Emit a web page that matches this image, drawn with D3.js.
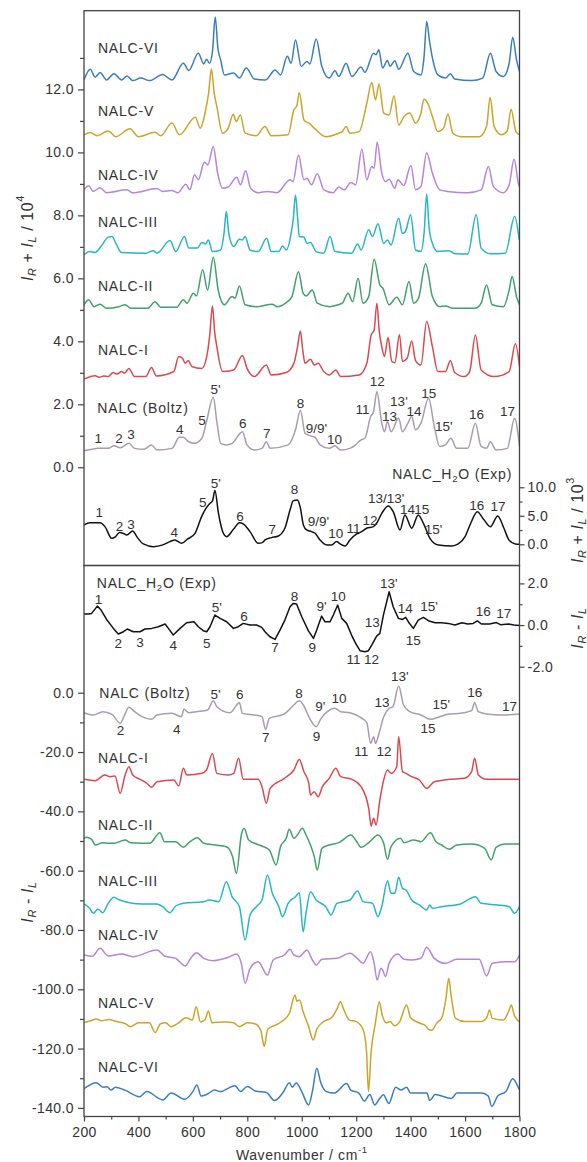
<!DOCTYPE html>
<html>
<head>
<meta charset="utf-8">
<script src="https://cdn.jsdelivr.net/npm/d3@7"></script>
<style>
  body { margin: 0; background: #fff; }
  svg text { font-family: "Liberation Sans", Arial, Helvetica, sans-serif; fill: #333; }
</style>
</head>
<body>
<svg id="chart" width="587" height="1162"></svg>
<script>
// ---------------- Raman (I_R + I_L, x10^4, offset traces) ----------------
const ramanVI = [[200,12.30],[223,12.64],[241,12.39],[259,12.54],[283,12.30],[310,12.50],[338,12.30],[358,12.43],[379,12.28],[409,12.36],[441,12.28],[489,12.47],[523,12.30],[565,12.83],[585,12.60],[620,13.15],[640,12.81],[650,12.96],[661,12.83],[672,13.2],[682,14.30],[692,13.3],[702,12.94],[716,12.46],[750,12.52],[771,12.36],[796,12.68],[826,12.33],[867,12.30],[902,12.62],[922,12.46],[947,13.05],[961,12.83],[977,13.57],[998,12.73],[1019,12.89],[1030,12.81],[1053,13.60],[1074,12.73],[1101,12.36],[1122,12.59],[1136,12.41],[1163,12.83],[1184,12.41],[1218,12.71],[1232,12.54],[1264,13.15],[1273,13.10],[1283,13.26],[1297,12.68],[1315,12.92],[1324,12.73],[1342,12.91],[1356,12.64],[1390,13.15],[1411,12.57],[1438,12.46],[1449,13.0],[1459,14.16],[1470,13.5],[1480,13.0],[1500,12.46],[1528,12.36],[1546,12.50],[1562,12.33],[1624,12.28],[1665,12.36],[1693,13.15],[1714,12.57],[1741,12.41],[1762,12.83],[1775,13.66],[1789,12.94],[1800,12.57]];

const ramanV = [[200,10.56],[223,10.63],[248,10.53],[289,10.68],[317,10.50],[369,10.75],[400,10.50],[461,10.64],[482,10.53],[523,10.93],[551,10.56],[609,11.12],[627,10.77],[647,11.35],[658,11.9],[668,12.65],[678,11.9],[688,11.46],[709,10.61],[730,10.77],[748,11.21],[760,10.98],[774,11.19],[792,10.61],[833,10.53],[865,10.82],[888,10.53],[950,10.56],[971,11.35],[982,11.48],[991,11.90],[1008,11.03],[1030,10.91],[1046,10.77],[1088,10.50],[1136,10.61],[1149,10.66],[1163,10.82],[1177,10.61],[1211,10.66],[1239,11.56],[1257,12.22],[1271,11.67],[1284,12.17],[1301,11.25],[1321,11.19],[1339,11.80],[1356,10.87],[1376,11.14],[1397,11.25],[1418,10.93],[1438,11.25],[1449,11.69],[1463,11.56],[1480,11.14],[1500,10.66],[1521,10.77],[1537,11.22],[1555,10.61],[1583,10.50],[1652,10.50],[1679,10.82],[1692,11.75],[1707,10.82],[1734,10.56],[1755,10.68],[1769,11.37],[1787,10.66],[1800,10.56]];

const ramanIV = [[200,8.81],[217,8.94],[234,8.76],[259,8.88],[283,8.72],[358,8.81],[379,8.72],[468,8.85],[489,8.76],[523,8.79],[545,8.72],[574,8.99],[589,8.81],[606,9.29],[620,9.13],[642,9.69],[655,9.60],[675,10.19],[691,9.34],[709,8.86],[730,8.90],[761,9.21],[775,8.97],[794,9.42],[812,8.86],[840,8.72],[874,8.76],[909,8.72],[957,9.13],[968,9.07],[988,9.92],[1008,9.13],[1019,9.18],[1036,8.97],[1057,9.32],[1081,8.81],[1115,8.72],[1136,8.90],[1156,8.81],[1180,9.04],[1198,8.97],[1221,10.10],[1239,9.13],[1257,9.55],[1266,9.50],[1277,10.32],[1294,9.34],[1308,9.07],[1321,9.15],[1342,8.86],[1353,9.13],[1375,8.95],[1401,9.58],[1418,8.81],[1438,8.92],[1459,9.99],[1480,9.34],[1507,8.81],[1535,8.76],[1610,8.72],[1659,8.81],[1686,9.55],[1704,8.92],[1741,8.72],[1762,8.97],[1780,9.78],[1797,8.97],[1800,8.90]];

const ramanIII = [[200,6.74],[221,6.85],[241,6.82],[262,7.01],[289,7.31],[303,7.33],[317,7.11],[338,6.82],[427,6.80],[455,6.88],[468,6.80],[516,7.20],[537,6.85],[569,7.33],[585,6.96],[617,6.96],[633,7.14],[647,7.09],[657,7.22],[672,6.85],[702,6.90],[714,7.4],[723,8.12],[731,7.5],[737,7.22],[750,7.01],[771,7.24],[782,7.22],[792,7.33],[810,6.90],[840,6.85],[871,7.27],[888,6.85],[916,6.85],[929,7.03],[943,6.90],[961,7.43],[969,7.9],[977,8.65],[985,7.9],[991,7.33],[1008,7.31],[1019,7.11],[1032,7.14],[1053,6.85],[1081,6.80],[1104,7.33],[1122,6.85],[1184,6.80],[1205,7.09],[1218,6.90],[1246,7.54],[1260,7.33],[1280,7.73],[1301,7.11],[1315,7.22],[1328,7.06],[1356,7.91],[1370,7.43],[1381,7.49],[1400,8.02],[1418,6.90],[1438,6.85],[1450,7.5],[1459,8.68],[1468,7.6],[1480,7.11],[1500,6.85],[1541,6.88],[1562,6.78],[1610,6.77],[1641,8.02],[1659,6.96],[1693,6.78],[1748,6.80],[1782,7.96],[1799,7.22]];

const ramanII = [[200,5.16],[217,5.32],[237,5.10],[259,5.18],[283,5.05],[328,5.10],[351,5.16],[372,5.05],[434,5.05],[461,5.26],[482,5.08],[540,5.08],[565,5.32],[578,5.21],[602,5.53],[613,5.44],[636,6.27],[654,5.63],[675,6.67],[693,5.63],[716,5.16],[744,5.42],[755,5.37],[771,5.76],[792,5.16],[833,5.10],[891,5.18],[909,5.10],[943,5.23],[964,5.42],[988,6.21],[1005,5.53],[1016,5.44],[1039,5.63],[1057,5.21],[1101,5.10],[1133,5.16],[1149,5.21],[1170,5.53],[1187,5.26],[1207,6.00],[1225,5.21],[1246,5.42],[1266,6.61],[1287,5.79],[1298,5.69],[1321,5.16],[1349,5.40],[1370,5.16],[1394,5.90],[1411,5.21],[1429,5.37],[1455,6.46],[1480,5.42],[1507,5.10],[1528,5.12],[1555,5.05],[1638,5.05],[1659,5.21],[1679,5.79],[1700,5.16],[1741,5.10],[1762,5.63],[1773,6.06],[1789,5.42],[1800,5.16]];

const ramanI = [[200,2.80],[241,2.91],[255,2.86],[273,2.90],[289,2.88],[307,3.01],[321,2.96],[338,3.04],[349,2.99],[365,3.14],[386,2.88],[427,2.88],[448,3.17],[466,2.90],[530,3.04],[548,3.52],[562,3.46],[572,3.30],[583,3.39],[596,3.20],[633,3.14],[651,3.52],[662,4.2],[672,5.12],[680,4.3],[688,3.83],[709,3.04],[750,3.09],[782,3.55],[799,3.14],[826,2.88],[870,3.25],[888,2.93],[943,3.01],[971,3.30],[984,3.8],[995,4.33],[1004,3.7],[1012,3.30],[1032,3.43],[1046,3.25],[1060,3.30],[1081,3.04],[1101,2.93],[1125,3.09],[1143,2.88],[1211,2.93],[1239,3.30],[1255,4.20],[1266,4.36],[1276,5.21],[1285,4.3],[1294,3.83],[1304,3.52],[1317,4.12],[1331,3.36],[1342,3.32],[1359,4.22],[1370,3.36],[1387,3.46],[1404,4.01],[1418,3.39],[1438,3.25],[1459,4.63],[1480,3.83],[1500,3.04],[1528,3.04],[1546,3.39],[1562,3.01],[1597,2.88],[1617,3.04],[1638,4.20],[1659,3.09],[1707,2.88],[1762,3.04],[1785,3.92],[1800,3.20]];

const ramanBoltz = [[200,0.53],[228,0.57],[251,0.60],[269,0.60],[289,0.60],[310,0.68],[333,0.62],[365,0.76],[386,0.60],[420,0.57],[448,0.71],[468,0.55],[523,0.60],[551,0.95],[565,0.95],[585,0.81],[606,0.76],[633,0.92],[650,1.45],[675,2.22],[688,1.45],[702,0.76],[723,0.71],[744,0.76],[782,1.13],[799,0.71],[826,0.55],[854,0.60],[870,0.81],[884,0.60],[950,0.71],[977,1.19],[995,1.80],[1012,1.08],[1023,1.03],[1035,0.99],[1049,0.95],[1067,0.71],[1101,0.60],[1122,0.68],[1143,0.55],[1177,0.60],[1198,0.71],[1218,0.87],[1232,0.92],[1253,1.61],[1264,1.77],[1276,2.40],[1294,1.40],[1304,1.13],[1315,1.45],[1328,1.13],[1356,1.56],[1370,1.13],[1390,1.40],[1404,1.61],[1418,1.19],[1438,1.40],[1466,2.19],[1487,1.30],[1507,0.66],[1528,0.71],[1548,0.92],[1569,0.60],[1610,0.60],[1638,1.40],[1659,0.66],[1679,0.60],[1693,0.81],[1714,0.55],[1755,0.60],[1782,1.56],[1800,0.66]];

// experimental Raman, right axis (x10^3)
const ramanExp = [[200,3.39],[222,3.80],[259,3.80],[277,3.10],[302,1.05],[315,1.3],[330,2.05],[345,1.9],[357,1.64],[379,2.34],[394,1.34],[418,0.06],[455,-0.41],[490,-0.1],[516,0.47],[534,0.76],[559,0.17],[580,0.9],[608,1.93],[632,4.85],[648,6.31],[663,7.19],[672,7.6],[681,9.42],[694,5.44],[712,1.93],[724,1.34],[749,2.63],[771,3.80],[785,3.6],[810,2.22],[840,0.17],[855,0.3],[865,0.76],[889,1.17],[914,1.46],[938,2.81],[957,6.02],[969,7.66],[984,7.78],[994,6.61],[1006,3.39],[1018,2.51],[1036,2.22],[1049,1.93],[1067,0.76],[1092,-0.12],[1110,-0.12],[1128,0.47],[1141,0.06],[1159,-0.29],[1177,0.76],[1202,1.81],[1220,2.22],[1238,2.81],[1263,3.10],[1275,3.68],[1294,5.44],[1318,6.72],[1336,5.73],[1361,2.51],[1379,5.15],[1404,2.81],[1428,5.15],[1447,3.68],[1471,1.05],[1502,-0.12],[1551,-0.29],[1575,0.06],[1600,1.34],[1620,3.6],[1645,5.72],[1668,4.4],[1693,3.09],[1720,4.96],[1742,2.9],[1762,0.7],[1785,0.05],[1800,0.0]];

// ---------------- ROA (I_R - I_L, offset traces) ----------------
const roaExp = [[200,0.53],[216,0.53],[228,0.56],[249,0.91],[261,0.75],[283,0.27],[308,-0.16],[326,-0.43],[345,-0.32],[359,-0.19],[381,-0.32],[406,-0.32],[424,-0.19],[449,-0.16],[473,-0.08],[498,0.05],[510,-0.16],[528,-0.48],[553,-0.16],[577,0.11],[604,0.16],[620,-0.08],[638,-0.27],[651,-0.32],[663,-0.08],[681,0.48],[700,0.32],[724,0.16],[749,-0.16],[767,-0.08],[785,0.08],[810,0.0],[834,0.0],[853,-0.11],[865,-0.32],[883,-0.56],[902,-0.69],[920,-0.24],[938,0.24],[957,0.88],[969,1.04],[981,1.01],[1000,0.40],[1024,-0.27],[1043,-0.64],[1055,-0.24],[1073,0.43],[1085,0.16],[1104,0.16],[1116,0.48],[1132,0.96],[1147,0.32],[1165,0.08],[1183,-0.48],[1198,-0.88],[1214,-1.23],[1232,-1.28],[1245,-1.23],[1257,-0.96],[1275,-0.53],[1287,-0.40],[1300,0.48],[1321,1.60],[1336,0.88],[1355,0.32],[1370,0.27],[1382,0.37],[1394,0.11],[1410,-0.16],[1428,0.24],[1447,0.37],[1465,0.21],[1490,0.11],[1514,0.11],[1538,0.08],[1563,0.0],[1588,0.11],[1610,0.05],[1630,0.08],[1645,0.2],[1660,0.05],[1690,0.05],[1715,0.12],[1730,0.02],[1760,0.05],[1780,0.0],[1800,-0.02]];

const roaBoltz = [[200,-6.73],[234,-7.52],[269,-6.39],[303,-7.29],[333,-10.33],[349,-7.52],[365,-4.93],[386,-6.39],[413,-8.08],[448,-8.98],[468,-7.52],[523,-6.96],[558,-8.08],[567,-5.61],[585,-6.73],[613,-6.39],[654,-5.83],[675,-2.68],[688,-4.71],[737,-6.73],[771,-3.36],[782,-6.96],[826,-7.52],[854,-8.08],[867,-12.35],[881,-8.64],[936,-7.18],[971,-4.15],[991,-2.68],[1008,-4.48],[1026,-8.08],[1053,-11.45],[1071,-8.64],[1094,-6.39],[1122,-5.27],[1143,-6.39],[1177,-6.73],[1211,-8.08],[1239,-10.1],[1253,-17.07],[1264,-14.82],[1271,-17.07],[1284,-13.7],[1301,-8.08],[1321,-5.27],[1335,-4.71],[1356,2.26],[1374,-4.15],[1397,-6.39],[1438,-7.52],[1473,-8.98],[1507,-8.08],[1542,-7.18],[1583,-6.96],[1624,-6.06],[1635,-3.36],[1649,-6.39],[1679,-7.18],[1734,-7.52],[1800,-7.18]];

const roaI = [[200,-29.21],[241,-29.66],[276,-27.75],[296,-28.31],[314,-28.08],[333,-33.93],[351,-27.75],[365,-24.94],[379,-27.75],[406,-29.21],[434,-30.78],[448,-31.91],[468,-29.99],[530,-29.43],[548,-31.46],[565,-25.5],[578,-27.75],[633,-27.19],[650,-26.06],[672,-20.5],[688,-27.19],[730,-27.75],[750,-27.19],[768,-22.1],[785,-29.21],[840,-29.21],[854,-31.68],[870,-37.3],[884,-32.24],[936,-28.87],[971,-26.06],[991,-22.5],[1008,-26.62],[1026,-30.56],[1032,-34.49],[1046,-33.37],[1060,-35.05],[1076,-31.68],[1101,-28.87],[1125,-25.5],[1143,-28.31],[1184,-29.21],[1218,-31.68],[1246,-38.99],[1255,-44.94],[1264,-42.36],[1273,-44.6],[1287,-36.18],[1301,-29.43],[1315,-26.06],[1328,-27.19],[1349,-24.94],[1356,-14.82],[1370,-26.62],[1383,-27.19],[1404,-28.31],[1432,-29.43],[1459,-32.24],[1487,-29.99],[1542,-29.21],[1597,-28.87],[1624,-26.62],[1635,-22.1],[1649,-27.75],[1679,-29.21],[1800,-29.21]];

const roaII = [[200,-49.2],[207,-48.76],[228,-49.44],[241,-51.35],[269,-50.56],[289,-50.79],[310,-50.79],[351,-49.66],[372,-50.56],[441,-50.79],[479,-47.19],[496,-50.22],[537,-50.22],[565,-52.13],[585,-50.56],[617,-48.88],[640,-50.79],[682,-51.35],[723,-51.91],[746,-55.28],[760,-60.9],[778,-47.98],[788,-45.73],[805,-49.66],[854,-51.69],[881,-53.03],[906,-58.09],[922,-51.91],[943,-49.1],[954,-46.07],[971,-49.1],[984,-47.98],[1002,-45.73],[1016,-47.98],[1032,-51.35],[1046,-55.28],[1057,-59.78],[1074,-52.47],[1101,-51.35],[1136,-50.56],[1181,-47.98],[1198,-49.66],[1218,-52.13],[1246,-50.56],[1280,-47.98],[1301,-50.79],[1315,-56.18],[1328,-51.91],[1363,-49.1],[1376,-50.56],[1411,-49.66],[1438,-50.22],[1473,-47.19],[1493,-50.22],[1514,-51.35],[1542,-52.81],[1569,-51.35],[1624,-51.01],[1672,-52.47],[1696,-56.4],[1714,-52.13],[1748,-51.01],[1800,-51.01]];

const roaIII = [[200,-71.24],[221,-72.7],[234,-74.39],[251,-73.04],[269,-74.16],[289,-71.02],[310,-68.99],[331,-69.89],[413,-71.24],[468,-71.24],[489,-72.14],[516,-74.16],[537,-71.92],[565,-71.02],[640,-70.45],[661,-69.89],[695,-70.45],[723,-63.71],[744,-68.77],[771,-72.14],[792,-83.38],[810,-74.95],[833,-72.14],[854,-69.89],[874,-61.46],[892,-67.64],[916,-72.14],[929,-75.51],[950,-71.02],[977,-68.77],[991,-67.42],[1005,-80.57],[1016,-74.16],[1032,-67.08],[1053,-69.89],[1088,-72.14],[1108,-74.95],[1129,-71.02],[1177,-69.89],[1205,-66.86],[1225,-70.45],[1260,-71.02],[1280,-75.51],[1294,-72.14],[1315,-63.37],[1328,-67.64],[1342,-67.64],[1356,-62.25],[1370,-65.96],[1383,-66.52],[1404,-69.89],[1432,-71.58],[1459,-73.26],[1470,-71.58],[1480,-72.7],[1514,-72.14],[1583,-71.24],[1638,-68.77],[1659,-71.02],[1720,-71.58],[1762,-72.14],[1782,-74.39],[1800,-72.14]];

const roaIV = [[200,-88.44],[230,-88.9],[259,-86.19],[289,-88.77],[338,-88.1],[379,-89.0],[468,-86.75],[496,-88.77],[537,-89.56],[572,-92.14],[592,-89.56],[613,-87.65],[640,-89.56],[675,-90.35],[730,-89.22],[760,-88.1],[778,-91.25],[792,-97.99],[810,-92.93],[840,-90.68],[874,-95.18],[895,-90.12],[936,-88.44],[957,-86.52],[971,-88.44],[991,-89.0],[1019,-86.75],[1039,-90.12],[1053,-91.81],[1074,-89.9],[1129,-89.56],[1177,-87.87],[1204,-89.56],[1225,-91.25],[1253,-87.31],[1266,-91.25],[1277,-96.86],[1291,-92.93],[1297,-93.49],[1308,-95.74],[1321,-91.25],[1353,-88.1],[1376,-89.9],[1404,-90.12],[1438,-89.56],[1459,-85.85],[1487,-89.56],[1528,-91.25],[1569,-89.9],[1652,-89.9],[1679,-95.52],[1700,-91.25],[1748,-90.68],[1782,-90.68],[1800,-88.44]];

const roaV = [[200,-111.25],[225,-110.6],[245,-110.0],[265,-110.6],[290,-110.2],[320,-110.9],[350,-111.5],[372,-112.6],[400,-111.3],[440,-111.3],[462,-114.6],[480,-111.7],[500,-111.3],[520,-112.6],[545,-111.5],[575,-109.6],[598,-110.4],[612,-105.9],[628,-111.0],[645,-110.2],[657,-107.3],[670,-111.3],[720,-111.0],[750,-111.3],[772,-112.6],[800,-111.3],[830,-111.7],[850,-114],[862,-119.3],[875,-113.5],[920,-111.3],[955,-108],[975,-101.9],[982,-104],[992,-103.6],[1005,-107.5],[1025,-112.5],[1042,-117.1],[1055,-113.5],[1080,-110.9],[1110,-109.5],[1130,-106.5],[1142,-104.2],[1155,-107],[1175,-110.4],[1200,-110.9],[1225,-113.5],[1238,-121],[1245,-134.5],[1255,-121],[1270,-111.7],[1285,-104.2],[1295,-108.5],[1310,-111.3],[1325,-110.9],[1340,-112.3],[1360,-110.9],[1385,-105.3],[1400,-109.6],[1430,-111.3],[1455,-112.3],[1465,-113.5],[1478,-113.8],[1495,-111.5],[1515,-109.5],[1530,-103],[1540,-96.3],[1550,-103],[1565,-109.8],[1600,-110.9],[1660,-110.9],[1680,-109.5],[1690,-107.0],[1700,-109.8],[1740,-110.4],[1760,-107.5],[1770,-105.3],[1780,-108.5],[1800,-111.0]];

const roaVI = [[200,-133.5],[245,-131.5],[270,-133.0],[285,-132.9],[300,-134],[315,-133.0],[350,-134],[405,-136.2],[430,-134.5],[490,-137.3],[520,-135],[570,-137.1],[600,-134.5],[615,-132.3],[630,-136],[650,-135.5],[680,-134],[700,-134.5],[755,-132.5],[775,-134.5],[800,-132.8],[830,-134.3],[870,-134.8],[900,-137.5],[930,-135],[955,-131.5],[965,-133],[980,-131.6],[1000,-134.5],[1025,-139.0],[1040,-134],[1055,-126.6],[1070,-131.5],[1090,-134.5],[1120,-135],[1165,-131.8],[1180,-134],[1210,-135],[1230,-137.7],[1250,-135.5],[1268,-139.0],[1285,-137],[1300,-135.6],[1320,-138.5],[1345,-133],[1365,-134],[1385,-133],[1400,-135],[1460,-135],[1470,-137.5],[1490,-135.5],[1550,-136.8],[1570,-135],[1660,-135],[1685,-136],[1698,-139.5],[1720,-136],[1750,-134.5],[1775,-130.2],[1790,-132],[1800,-134]];

// ---------------- axis ticks ----------------
const xTicks = [200, 400, 600, 800, 1000, 1200, 1400, 1600, 1800];
const xMinor = [300, 500, 700, 900, 1100, 1300, 1500, 1700];
const topLeftTicks = [0, 2, 4, 6, 8, 10, 12];
const topLeftMinor = [1, 3, 5, 7, 9, 11, 13];
const topRightTicks = [0, 5, 10];
const topRightMinor = [2.5, 7.5];
const botLeftTicks = [0, -20, -40, -60, -80, -100, -120, -140];
const botLeftMinor = [-10, -30, -50, -70, -90, -110, -130];
const botRightTicks = [2, 0, -2];
const botRightMinor = [1, -1];

// ---------------- band assignments [label, wavenumber, level] ----------------
const bandsBoltzRaman = [["1",252,0.92],["2",329,0.92],["3",373,1.03],["4",552,1.21],["5",634,1.50],["5'",683,2.46],["6",783,1.40],["7",871,1.08],["8",995,2.03],["9/9'",1054,1.24],["10",1120,0.89],["11",1223,1.82],["12",1277,2.72],["13",1322,1.61],["13'",1357,2.08],["14",1412,1.77],["15",1467,2.35],["15'",1522,1.29],["16",1642,1.68],["17",1756,1.77]];
const bandsExpRaman = [["1",256,5.54],["2",330,3.09],["3",373,3.51],["4",532,2.04],["5",636,7.30],["5'",684,10.58],["6",773,4.84],["7",892,2.63],["8",973,9.65],["9/9'",1061,3.96],["10",1125,1.93],["11",1190,2.81],["12",1251,4.26],["13/13'",1310,8.07],["14",1389,6.19],["15",1441,6.19],["15'",1484,2.63],["16",1643,6.72],["17",1721,6.60]];
const bandsExpRoa = [["1",253,1.23],["2",326,-0.88],["3",406,-0.85],["4",528,-0.96],["5",651,-0.88],["5'",688,0.85],["6",788,0.43],["7",902,-1.07],["8",973,1.39],["9",1039,-1.07],["9'",1073,0.88],["10",1134,1.39],["11",1190,-1.65],["12",1256,-1.65],["13",1259,0.11],["13'",1320,2.00],["14",1380,0.80],["15",1410,-0.72],["15'",1468,0.91],["16",1667,0.64],["17",1742,0.56]];
const bandsBoltzRoa = [["2",334,-12.9],["4",541,-12.3],["5'",683,-0.44],["6",772,-0.44],["7",868,-15.2],["8",990,-0.2],["9",1054,-14.8],["9'",1068,-4.7],["10",1137,-1.9],["11",1219,-19.9],["12",1302,-19.9],["13",1295,-3.4],["13'",1360,5.4],["15",1464,-12.0],["15'",1513,-4.1],["16",1636,0],["17",1763,-4.5]];

// ---------------- trace names ----------------
const conformers = ["NALC-VI", "NALC-V", "NALC-IV", "NALC-III", "NALC-II", "NALC-I"];
const ramanLabelLevels = [13.31, 11.30, 9.29, 7.78, 5.76, 3.73];
const roaLabelLevels = [-126.3, -104.7, -81.7, -63.4, -44.6, -22.1];

// ---------------- drawing ----------------
const colors = {
  "NALC-VI": "#3a7dbf", "NALC-V": "#c9a52b", "NALC-IV": "#b585d6",
  "NALC-III": "#26b7c1", "NALC-II": "#41a06b", "NALC-I": "#d94a50",
  "boltz": "#a99bb0", "exp": "#111111"
};
const ramanData = { "NALC-VI": ramanVI, "NALC-V": ramanV, "NALC-IV": ramanIV, "NALC-III": ramanIII, "NALC-II": ramanII, "NALC-I": ramanI };
const roaData = { "NALC-VI": roaVI, "NALC-V": roaV, "NALC-IV": roaIV, "NALC-III": roaIII, "NALC-II": roaII, "NALC-I": roaI };

const svg = d3.select("#chart");
const pL = 84, pR = 519.5, pT = 10.7, pM = 565.5, pB = 1116.5;

const x = d3.scaleLinear().domain([200, 1800]).range([pL, pR]);
const yTop = d3.scaleLinear().domain([-3.12, 14.5]).range([pM, pT]);
const yTopR = d3.scaleLinear().domain([-3.72, 93.6]).range([pM, pT]);
const yBot = d3.scaleLinear().domain([-142.9, 42.9]).range([pB, pM]);
const yBotR = d3.scaleLinear().domain([-23.6, 2.86]).range([pB, pM]);

const defs = svg.append("defs");
defs.append("clipPath").attr("id", "clipTop").append("rect")
  .attr("x", pL).attr("y", pT).attr("width", pR - pL).attr("height", pM - pT);
defs.append("clipPath").attr("id", "clipBot").append("rect")
  .attr("x", pL).attr("y", pM).attr("width", pR - pL).attr("height", pB - pM);

function drawTrace(g, data, ys, color, curve) {
  const gen = d3.line().x(d => x(d[0])).y(d => ys(d[1])).curve(curve || d3.curveMonotoneX);
  g.append("path").datum(data).attr("d", gen)
    .attr("fill", "none").attr("stroke", color).attr("stroke-width", 1.5)
    .attr("stroke-linejoin", "round");
}

const gTop = svg.append("g").attr("clip-path", "url(#clipTop)");
const gBot = svg.append("g").attr("clip-path", "url(#clipBot)");

conformers.forEach(n => drawTrace(gTop, ramanData[n], yTop, colors[n]));
drawTrace(gTop, ramanBoltz, yTop, colors.boltz);
drawTrace(gTop, ramanExp, yTopR, colors.exp);

drawTrace(gBot, roaExp, yBotR, colors.exp, d3.curveLinear);
drawTrace(gBot, roaBoltz, yBot, colors.boltz);
conformers.forEach(n => drawTrace(gBot, roaData[n], yBot, colors[n]));

// panel frames
[[pT, pM], [pM, pB]].forEach(([a, b]) => {
  svg.append("rect").attr("x", pL).attr("y", a).attr("width", pR - pL).attr("height", b - a)
    .attr("fill", "none").attr("stroke", "#444").attr("stroke-width", 1.3);
});

// axes
const fmt1 = d => d.toFixed(1);
function addAxis(axis, tx, ty) {
  const g = svg.append("g").attr("transform", `translate(${tx},${ty})`).call(axis);
  g.select(".domain").remove();
  g.selectAll(".tick line").attr("stroke", "#444").attr("stroke-width", 1.2);
  g.selectAll(".tick text").attr("font-size", 14).attr("fill", "#333")
    .attr("letter-spacing", "0.4px")
    .style("font-family", '"Liberation Sans", Arial, sans-serif');
  return g;
}
addAxis(d3.axisLeft(yTop).tickValues(topLeftTicks).tickSize(6).tickPadding(4).tickFormat(fmt1), pL, 0);
addAxis(d3.axisLeft(yTop).tickValues(topLeftMinor).tickSize(4).tickFormat(""), pL, 0);
addAxis(d3.axisRight(yTopR).tickValues(topRightTicks).tickSize(5).tickPadding(3).tickFormat(fmt1), pR, 0);
addAxis(d3.axisRight(yTopR).tickValues(topRightMinor).tickSize(3).tickFormat(""), pR, 0);
addAxis(d3.axisLeft(yBot).tickValues(botLeftTicks).tickSize(6).tickPadding(4).tickFormat(fmt1), pL, 0);
addAxis(d3.axisLeft(yBot).tickValues(botLeftMinor).tickSize(4).tickFormat(""), pL, 0);
addAxis(d3.axisRight(yBotR).tickValues(botRightTicks).tickSize(5).tickPadding(3).tickFormat(fmt1), pR, 0);
addAxis(d3.axisRight(yBotR).tickValues(botRightMinor).tickSize(3).tickFormat(""), pR, 0);
addAxis(d3.axisBottom(x).tickValues(xTicks).tickSize(5).tickPadding(6).tickFormat(d3.format("d")), 0, pB);
addAxis(d3.axisBottom(x).tickValues(xMinor).tickSize(3).tickFormat(""), 0, pB);

// rich text: segments with italic / subscript / superscript parts
function rich(sel, segs, fs) {
  let shift = 0;
  segs.forEach(s => {
    const target = s.sub ? 0.3 : s.sup ? -0.42 : 0;
    const ts = sel.append("tspan").text(s.t);
    if (target !== shift) ts.attr("dy", ((target - shift) * fs) + "px");
    if (s.sub || s.sup) ts.attr("font-size", fs * 0.68);
    if (s.it) ts.attr("font-style", "italic");
    shift = target;
  });
  return sel;
}

function axisTitle(cx, cy, segs, fs) {
  const t = svg.append("text").attr("transform", `translate(${cx},${cy}) rotate(-90)`)
    .attr("text-anchor", "middle").attr("font-size", fs).attr("letter-spacing", "0.6px")
    .attr("dominant-baseline", "central");
  rich(t, segs, fs);
}
const sumTitle = p => [{t:"I",it:1},{t:"R",it:1,sub:1},{t:" + "},{t:"I",it:1},{t:"L",it:1,sub:1},{t:" / 10"},{t:p,sup:1}];
const diffTitle = [{t:"I",it:1},{t:"R",it:1,sub:1},{t:" - "},{t:"I",it:1},{t:"L",it:1,sub:1}];
axisTitle(27, 238, sumTitle("4"), 16);
axisTitle(577, 520, sumTitle("3"), 16);
axisTitle(27, 902, diffTitle, 16);
axisTitle(577, 628, diffTitle, 16);

const xt = svg.append("text").attr("x", (pL + pR) / 2).attr("y", 1155)
  .attr("text-anchor", "middle").attr("dominant-baseline", "central")
  .attr("font-size", 14).attr("letter-spacing", "0.6px");
rich(xt, [{t:"Wavenumber / cm"},{t:"-1",sup:1}], 14);

// trace names
function traceName(wn, level, ys, segs, anchor) {
  const t = svg.append("text").attr("x", x(wn)).attr("y", ys(level))
    .attr("text-anchor", anchor || "start").attr("dominant-baseline", "central")
    .attr("font-size", 14).attr("letter-spacing", "0.8px").attr("fill", "#333");
  rich(t, segs, 14);
}
const expName = [{t:"NALC_H"},{t:"2",sub:1},{t:"O (Exp)"}];
conformers.forEach((n, i) => {
  traceName(251, ramanLabelLevels[i], yTop, [{t:n}]);
  traceName(251, roaLabelLevels[i], yBot, [{t:n}]);
});
traceName(249, 1.87, yTop, [{t:"NALC (Boltz)"}]);
traceName(1773, 12.28, yTopR, expName, "end");
traceName(247, 2.03, yBotR, expName);
traceName(256, -0.2, yBot, [{t:"NALC (Boltz)"}]);

// band labels
function bandLabels(list, ys) {
  list.forEach(([lab, wn, lv]) => {
    svg.append("text").attr("x", x(wn)).attr("y", ys(lv))
      .attr("text-anchor", "middle").attr("dominant-baseline", "central")
      .attr("font-size", 13.5).attr("fill", "#333").text(lab);
  });
}
bandLabels(bandsBoltzRaman, yTop);
bandLabels(bandsExpRaman, yTopR);
bandLabels(bandsExpRoa, yBotR);
bandLabels(bandsBoltzRoa, yBot);
</script>
</body>
</html>
